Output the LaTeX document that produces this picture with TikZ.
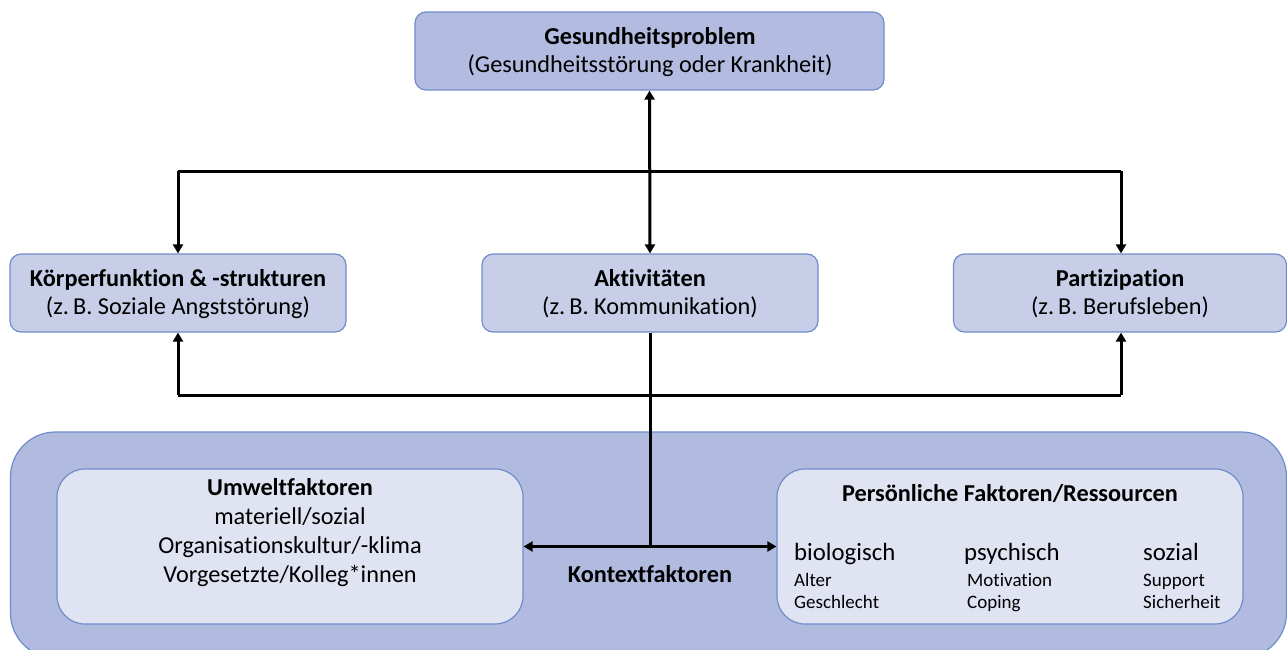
\documentclass[tikz,border=0pt]{standalone}
\usepackage{fontspec}
\setmainfont{Carlito}[Ligatures=NoCommon]
\usetikzlibrary{arrows.meta}
\definecolor{bordc}{HTML}{6F8DCB}
\definecolor{topfill}{HTML}{B3BCE0}
\definecolor{midfill}{HTML}{C8CEE8}
\definecolor{ctxfill}{HTML}{B1BADF}
\definecolor{innfill}{HTML}{E0E4F2}
\tikzset{
  boxA/.style={draw=bordc, line width=1.2pt, rounded corners=11pt, inner sep=0pt},
  txt/.style={inner sep=0pt, align=center, font=\fontsize{24.3}{28}\selectfont},
  small/.style={inner sep=0pt, anchor=base west, font=\fontsize{19}{22}\selectfont},
  mid/.style={inner sep=0pt, anchor=base west, font=\fontsize{24.8}{28}\selectfont},
  conn/.style={line width=3pt, line join=miter},
  tip/.style={-{Triangle[length=9pt,width=10pt]}},
  tips/.style={{Triangle[length=9pt,width=10pt]}-{Triangle[length=9pt,width=10pt]}}
}
\begin{document}
\begin{tikzpicture}[x=1pt,y=-1pt]
\useasboundingbox (0,0) rectangle (1287,650);
% context box
\node[boxA, fill=ctxfill, rounded corners=45pt, minimum width=1276pt, minimum height=226pt] (ctx) at (648.5,545) {};
\node[boxA, fill=innfill, rounded corners=28pt, minimum width=466pt, minimum height=155pt] (umw) at (290,546.5) {};
\node[boxA, fill=innfill, rounded corners=28pt, minimum width=466pt, minimum height=155pt] (pers) at (1010,546.5) {};
% top boxes
\node[boxA, fill=topfill, minimum width=469pt, minimum height=78pt] (gp) at (649.5,51) {};
\node[boxA, fill=midfill, minimum width=336pt, minimum height=78pt] (kf) at (178,293) {};
\node[boxA, fill=midfill, minimum width=336pt, minimum height=78pt] (akt) at (650,293) {};
\node[boxA, fill=midfill, minimum width=333pt, minimum height=78pt] (part) at (1120,293) {};
% texts
\node[txt] (gpt) at (650,52) {\textbf{Gesundheitsproblem}\\(Gesundheitsstörung oder Krankheit)};
\node[txt] (kft) at (178,294) {\textbf{Körperfunktion \& -strukturen}\\(z.\,B. Soziale Angststörung)};
\node[txt] (aktt) at (650,294) {\textbf{Aktivitäten}\\(z.\,B. Kommunikation)};
\node[txt] (partt) at (1120,294) {\textbf{Partizipation}\\(z.\,B. Berufsleben)};
\node[txt, font=\fontsize{24.3}{29}\selectfont] (umwt) at (290,533) {\textbf{Umweltfaktoren}\\materiell/sozial\\Organisationskultur/-klima\\Vorgesetzte/Kolleg*innen};
\node[txt] (ctxt) at (650,574) {\textbf{Kontextfaktoren}};
\node[txt] (perst) at (1010,494) {\textbf{Persönliche Faktoren/Ressourcen}};
\node[mid] (bio) at (794,560) {biologisch};
\node[mid] (psy) at (964,560) {psychisch};
\node[mid] (soz) at (1143,560) {sozial};
\node[small] (alt) at (794,586) {Alter};
\node[small] (ges) at (794,608.5) {Geschlecht};
\node[small] (mot) at (967,586) {Motivation};
\node[small] (cop) at (967,608.5) {Coping};
\node[small] (sup) at (1143,586) {Support};
\node[small] (sic) at (1143,608.5) {Sicherheit};
% connectors
\coordinate (tl) at (178,171);
\coordinate (tr) at (1121,171);
\coordinate (bl) at (178,395);
\coordinate (br) at (1121,395);
\coordinate (mj) at (650,546.5);
\draw[conn] (tl) -- (tr);
\draw[conn, tip] (tl) -- (kf.north);
\draw[conn, tip] (tr) -- (tr |- part.north);
\draw[conn, tips] (gp.south) -- (akt.north);
\draw[conn, tip] (bl) -- (kf.south);
\draw[conn, tip] (br) -- (br |- part.south);
\draw[conn] (bl) -- (br);
\draw[conn] (akt.south) -- (mj);
\draw[conn, tips] (umw.east) -- (pers.west);
\end{tikzpicture}
\end{document}
